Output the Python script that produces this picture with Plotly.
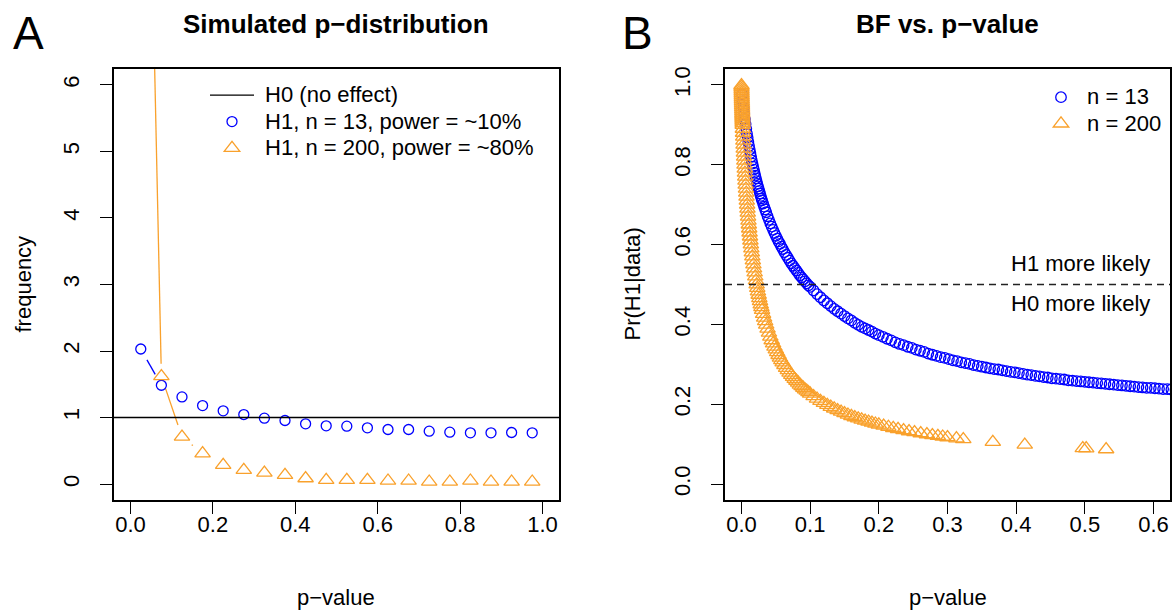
import math
import plotly.graph_objects as go

W, H = 1174, 612
FONT = "Liberation Sans, Arial, Helvetica, sans-serif"
BLUE = "#0000FF"
ORANGE = "#F9A12C"

# ---------------- Panel A data: simulated p-distribution ----------------
bin_mid = [0.025, 0.075, 0.125, 0.175, 0.225, 0.275, 0.325, 0.375, 0.425, 0.475,
           0.525, 0.575, 0.625, 0.675, 0.725, 0.775, 0.825, 0.875, 0.925, 0.975]
freq_n13 = [2.03, 1.485, 1.31, 1.18, 1.10, 1.045, 0.99, 0.955, 0.905, 0.875,
            0.87, 0.845, 0.82, 0.82, 0.795, 0.78, 0.77, 0.77, 0.775, 0.77]
freq_n200 = [15.8, 1.62, 0.71, 0.46, 0.285, 0.21, 0.17, 0.135, 0.085, 0.06,
             0.06, 0.06, 0.05, 0.05, 0.035, 0.035, 0.05, 0.035, 0.035, 0.035]
h0_level = 1.0

xticks_a = [0.0, 0.2, 0.4, 0.6, 0.8, 1.0]
xticklabels_a = ["0.0", "0.2", "0.4", "0.6", "0.8", "1.0"]
yticks_a = [0, 1, 2, 3, 4, 5, 6]
yticklabels_a = ["0", "1", "2", "3", "4", "5", "6"]
xrange_a = [-0.04, 1.04]
yrange_a = [-0.24, 6.24]

# ---------------- Panel B data: Pr(H1|data) vs p-value ----------------
p_n13 = [0.001, 0.002, 0.003, 0.004, 0.005, 0.006, 0.007, 0.008, 0.009, 0.010,
         0.011, 0.012, 0.013, 0.014, 0.015, 0.016, 0.017, 0.018, 0.019, 0.020,
         0.021, 0.022, 0.023, 0.024, 0.025, 0.026, 0.027, 0.028, 0.029, 0.030,
         0.0315, 0.033, 0.0345, 0.036, 0.038, 0.040, 0.042, 0.044, 0.046, 0.048,
         0.050, 0.052, 0.054, 0.056, 0.058, 0.060, 0.0625, 0.065, 0.0675, 0.070,
         0.0725, 0.075, 0.0775, 0.080, 0.0825, 0.085, 0.0875, 0.090, 0.0925, 0.095,
         0.0975, 0.100, 0.105, 0.110, 0.115, 0.120, 0.125, 0.130, 0.135, 0.140,
         0.145, 0.150, 0.155, 0.160, 0.165, 0.170, 0.175, 0.180, 0.185, 0.190,
         0.195, 0.200, 0.206, 0.212, 0.218, 0.224, 0.230, 0.236, 0.242, 0.248,
         0.254, 0.260, 0.266, 0.272, 0.278, 0.284, 0.290, 0.296, 0.302, 0.308,
         0.314, 0.320, 0.326, 0.332, 0.338, 0.344, 0.350, 0.356, 0.362, 0.368,
         0.374, 0.380, 0.386, 0.392, 0.398, 0.404, 0.410, 0.416, 0.422, 0.428,
         0.434, 0.440, 0.446, 0.452, 0.458, 0.464, 0.470, 0.476, 0.482, 0.488,
         0.494, 0.500, 0.506, 0.512, 0.518, 0.524, 0.530, 0.536, 0.542, 0.548,
         0.554, 0.560, 0.566, 0.572, 0.578, 0.584, 0.590, 0.596, 0.602, 0.608,
         0.614, 0.620, 0.626, 0.632, 0.638]
pr_n13 = [0.977, 0.959, 0.943, 0.928, 0.914, 0.902, 0.890, 0.878, 0.868, 0.857,
          0.847, 0.838, 0.829, 0.820, 0.811, 0.803, 0.795, 0.788, 0.780, 0.773,
          0.766, 0.759, 0.752, 0.746, 0.740, 0.734, 0.728, 0.722, 0.716, 0.711,
          0.703, 0.695, 0.688, 0.681, 0.671, 0.662, 0.653, 0.645, 0.637, 0.629,
          0.622, 0.615, 0.608, 0.602, 0.595, 0.589, 0.581, 0.574, 0.567, 0.560,
          0.553, 0.547, 0.541, 0.535, 0.529, 0.523, 0.518, 0.513, 0.508, 0.503,
          0.498, 0.494, 0.485, 0.476, 0.468, 0.460, 0.453, 0.446, 0.439, 0.433,
          0.427, 0.421, 0.415, 0.410, 0.404, 0.399, 0.394, 0.390, 0.386, 0.382,
          0.377, 0.373, 0.369, 0.364, 0.360, 0.355, 0.351, 0.348, 0.344, 0.341,
          0.337, 0.334, 0.331, 0.327, 0.324, 0.321, 0.318, 0.316, 0.313, 0.310,
          0.308, 0.305, 0.303, 0.301, 0.298, 0.296, 0.294, 0.292, 0.290, 0.288,
          0.287, 0.285, 0.283, 0.281, 0.280, 0.278, 0.276, 0.274, 0.273, 0.271,
          0.270, 0.268, 0.267, 0.265, 0.264, 0.263, 0.262, 0.260, 0.259, 0.258,
          0.257, 0.256, 0.255, 0.254, 0.253, 0.252, 0.251, 0.250, 0.249, 0.248,
          0.247, 0.246, 0.245, 0.244, 0.243, 0.242, 0.241, 0.241, 0.240, 0.239,
          0.238, 0.238, 0.237, 0.236, 0.235]

p_n200 = [0.00001, 0.00005, 0.000125, 0.0002, 0.00027, 0.00035, 0.00043, 0.0005, 0.0006, 0.0007,
          0.00077, 0.00087, 0.00096, 0.00105, 0.00115, 0.00125, 0.00135, 0.00145, 0.00156, 0.00166,
          0.00177, 0.002, 0.00224, 0.00248, 0.00273, 0.003, 0.00326, 0.00354, 0.00383, 0.00413,
          0.00443, 0.00475, 0.00508, 0.00543, 0.00578, 0.00615, 0.00653, 0.00693, 0.00734, 0.00777,
          0.00822, 0.00868, 0.00914, 0.00965, 0.01017, 0.0107, 0.01125, 0.0118, 0.0124, 0.0130,
          0.0137, 0.0144, 0.0151, 0.0158, 0.0166, 0.0174, 0.0183, 0.0192, 0.0201, 0.0211,
          0.0221, 0.0230, 0.024, 0.025, 0.026, 0.027, 0.028, 0.029, 0.030, 0.0315,
          0.033, 0.0345, 0.036, 0.038, 0.040, 0.042, 0.044, 0.046, 0.048, 0.050,
          0.052, 0.054, 0.056, 0.058, 0.060, 0.0625, 0.065, 0.0675, 0.070, 0.0725,
          0.075, 0.0775, 0.080, 0.0825, 0.085, 0.0875, 0.090, 0.0925, 0.095, 0.0975,
          0.100, 0.105, 0.110, 0.115, 0.120, 0.125, 0.130, 0.135, 0.140, 0.145,
          0.150, 0.155, 0.160, 0.165, 0.170, 0.175, 0.180, 0.185, 0.190, 0.195,
          0.200, 0.207, 0.214, 0.221, 0.228, 0.236, 0.244, 0.252, 0.261, 0.270,
          0.278, 0.286, 0.293, 0.300, 0.313, 0.323, 0.366, 0.4125, 0.497, 0.502,
          0.531]
pr_n200 = [0.999, 0.995, 0.990, 0.985, 0.980, 0.975, 0.970, 0.965, 0.960, 0.955,
           0.950, 0.945, 0.940, 0.935, 0.930, 0.925, 0.920, 0.915, 0.910, 0.905,
           0.900, 0.890, 0.880, 0.870, 0.860, 0.850, 0.840, 0.830, 0.820, 0.810,
           0.800, 0.790, 0.780, 0.770, 0.760, 0.750, 0.740, 0.730, 0.720, 0.710,
           0.700, 0.690, 0.680, 0.670, 0.660, 0.650, 0.640, 0.630, 0.620, 0.610,
           0.600, 0.590, 0.580, 0.570, 0.560, 0.550, 0.540, 0.530, 0.520, 0.510,
           0.500, 0.491, 0.4825, 0.474, 0.4656, 0.458, 0.450, 0.443, 0.436, 0.426,
           0.4165, 0.408, 0.399, 0.389, 0.379, 0.369, 0.360, 0.352, 0.344, 0.337,
           0.330, 0.323, 0.3165, 0.310, 0.3047, 0.298, 0.291, 0.285, 0.279, 0.273,
           0.268, 0.263, 0.2585, 0.254, 0.249, 0.245, 0.241, 0.237, 0.2336, 0.230,
           0.2264, 0.220, 0.2138, 0.208, 0.2030, 0.198, 0.1933, 0.189, 0.1848, 0.181,
           0.1773, 0.1737, 0.1702, 0.167, 0.1641, 0.1613, 0.1585, 0.156, 0.1536, 0.1512,
           0.1488, 0.146, 0.143, 0.140, 0.1376, 0.1348, 0.132, 0.1296, 0.127, 0.1245,
           0.1223, 0.1203, 0.1186, 0.117, 0.1143, 0.1122, 0.1052, 0.0983, 0.0897, 0.0892,
           0.0869]
threshold = 0.5

xticks_b = [0.0, 0.1, 0.2, 0.3, 0.4, 0.5, 0.6]
xticklabels_b = ["0.0", "0.1", "0.2", "0.3", "0.4", "0.5", "0.6"]
yticks_b = [0.0, 0.2, 0.4, 0.6, 0.8, 1.0]
yticklabels_b = ["0.0", "0.2", "0.4", "0.6", "0.8", "1.0"]
xrange_b = [-0.024, 0.624]
yrange_b = [-0.04, 1.04]

# ---------------- layout geometry (pixels) ----------------
BOX_A_X = (114, 559)
BOX_B_X = (725, 1170)
BOX_Y = (69, 500)  # top, bottom


def px(x):
    return x / W


def py(y):
    return 1 - y / H


def gapped_segments(xs, ys, xr, yr, box_x, box_y, gap):
    """R type='b' style: line segments between points, leaving a gap around each point."""
    sx = (box_x[1] - box_x[0]) / (xr[1] - xr[0])
    sy = (box_y[1] - box_y[0]) / (yr[1] - yr[0])
    outx, outy = [], []
    for i in range(len(xs) - 1):
        dx = (xs[i + 1] - xs[i]) * sx
        dy = (ys[i + 1] - ys[i]) * sy
        d = math.hypot(dx, dy)
        if d > 2 * gap:
            f = gap / d
            outx += [xs[i] + (xs[i + 1] - xs[i]) * f, xs[i + 1] - (xs[i + 1] - xs[i]) * f, None]
            outy += [ys[i] + (ys[i + 1] - ys[i]) * f, ys[i + 1] - (ys[i + 1] - ys[i]) * f, None]
    return outx, outy


def leg(text):
    # legend rows keep the compact R spacing (legend font 18) while text is drawn at 22px
    return f'<span style="font-size:22px">\u00a0{text}</span>'


fig = go.Figure()

# Panel A
sx13, sy13 = gapped_segments(bin_mid, freq_n13, xrange_a, yrange_a, BOX_A_X, BOX_Y, 12.5)
sx200, sy200 = gapped_segments(bin_mid, freq_n200, xrange_a, yrange_a, BOX_A_X, BOX_Y, 12.5)

fig.add_trace(go.Scatter(x=sx13, y=sy13, mode="lines", line=dict(color=BLUE, width=1.3),
                         showlegend=False, hoverinfo="skip", xaxis="x", yaxis="y"))
fig.add_trace(go.Scatter(x=sx200, y=sy200, mode="lines", line=dict(color=ORANGE, width=1.3),
                         showlegend=False, hoverinfo="skip", xaxis="x", yaxis="y"))
fig.add_trace(go.Scatter(x=bin_mid, y=freq_n13, mode="markers",
                         name=leg("H1, n = 13, power = ~10%"),
                         marker=dict(symbol="circle-open", size=10, color=BLUE, line=dict(width=1.3)),
                         legend="legend", legendrank=2, xaxis="x", yaxis="y"))
fig.add_trace(go.Scatter(x=bin_mid, y=freq_n200, mode="markers",
                         name=leg("H1, n = 200, power = ~80%"),
                         marker=dict(symbol="triangle-up-open", size=13.5, color=ORANGE, line=dict(width=1.3)),
                         legend="legend", legendrank=3, xaxis="x", yaxis="y"))

# Panel B
fig.add_trace(go.Scatter(x=p_n13, y=pr_n13, mode="markers", name=leg("n = 13"),
                         marker=dict(symbol="circle-open", size=10.5, color=BLUE, line=dict(width=1.3)),
                         legend="legend2", xaxis="x2", yaxis="y2"))
fig.add_trace(go.Scatter(x=p_n200, y=pr_n200, mode="markers", name=leg("n = 200"),
                         marker=dict(symbol="triangle-up-open", size=13.5, color=ORANGE, line=dict(width=1.3)),
                         legend="legend2", xaxis="x2", yaxis="y2"))

shapes = [
    dict(type="line", xref="x domain", yref="y", x0=0, x1=1, y0=h0_level, y1=h0_level,
         line=dict(color="black", width=1.3), showlegend=True,
         name=leg("H0 (no effect)"), legend="legend", legendrank=1),
    dict(type="line", xref="x2 domain", yref="y2", x0=0, x1=1, y0=threshold, y1=threshold,
         line=dict(color="#222222", width=1.3, dash="7px,5px")),
]

axis_common = dict(showgrid=False, zeroline=False, showline=True, mirror=True,
                   linecolor="black", linewidth=1.5, ticks="outside", ticklen=12,
                   tickwidth=1.3, tickcolor="black", automargin=False,
                   tickfont=dict(family=FONT, size=22, color="black"))

fig.update_layout(
    width=W, height=H,
    margin=dict(l=0, r=0, t=0, b=0),
    paper_bgcolor="white", plot_bgcolor="white",
    font=dict(family=FONT, size=22, color="black"),
    xaxis=dict(domain=[px(BOX_A_X[0]), px(BOX_A_X[1])], range=xrange_a, anchor="y",
               tickmode="array", tickvals=xticks_a, ticktext=xticklabels_a,
               ticklabelstandoff=-8, **axis_common),
    yaxis=dict(domain=[py(BOX_Y[1]), py(BOX_Y[0])], range=yrange_a, anchor="x",
               tickmode="array", tickvals=yticks_a, ticktext=yticklabels_a,
               tickangle=-90, ticklabelstandoff=12, **axis_common),
    xaxis2=dict(domain=[px(BOX_B_X[0]), px(BOX_B_X[1])], range=xrange_b, anchor="y2",
                tickmode="array", tickvals=xticks_b, ticktext=xticklabels_b,
                ticklabelstandoff=-8, **axis_common),
    yaxis2=dict(domain=[py(BOX_Y[1]), py(BOX_Y[0])], range=yrange_b, anchor="x2",
                tickmode="array", tickvals=yticks_b, ticktext=yticklabels_b,
                tickangle=-90, ticklabelstandoff=12, **axis_common),
    legend=dict(x=px(205), y=py(77), xanchor="left", yanchor="top",
                bgcolor="rgba(0,0,0,0)", borderwidth=0, tracegroupgap=0,
                itemwidth=44, font=dict(family=FONT, size=18, color="black")),
    legend2=dict(x=px(1041), y=py(79), xanchor="left", yanchor="top",
                 bgcolor="rgba(0,0,0,0)", borderwidth=0, tracegroupgap=0,
                 font=dict(family=FONT, size=18, color="black")),
    shapes=shapes,
    showlegend=True,
)

ann = []


def add_text(text, x, y, size=22, bold=False, angle=0, xanchor="center"):
    ann.append(dict(text=f"<b>{text}</b>" if bold else text, x=px(x), y=py(y),
                    xref="paper", yref="paper", showarrow=False, textangle=angle,
                    xanchor=xanchor, yanchor="middle",
                    font=dict(family=FONT, size=size, color="black")))


add_text("A", 28, 33, size=46)
add_text("B", 637, 33, size=46)
add_text("Simulated p\u2212distribution", 336.5, 24, size=26, bold=True)
add_text("BF vs. p\u2212value", 947.5, 24, size=26, bold=True)
add_text("frequency", 23, 284.5, angle=-90)
add_text("Pr(H1|data)", 632, 284.5, angle=-90)
add_text("p\u2212value", 336.5, 597)
add_text("p\u2212value", 947.5, 597)
add_text("H1 more likely", 1152, 263, xanchor="right")
add_text("H0 more likely", 1152, 303, xanchor="right")

fig.update_layout(annotations=ann)

# the page is photographed at exactly the figure size: drop the browser's default body margin
fig.write_html("out.html", config={"displayModeBar": False},
               post_script="document.body.style.margin='0';")
